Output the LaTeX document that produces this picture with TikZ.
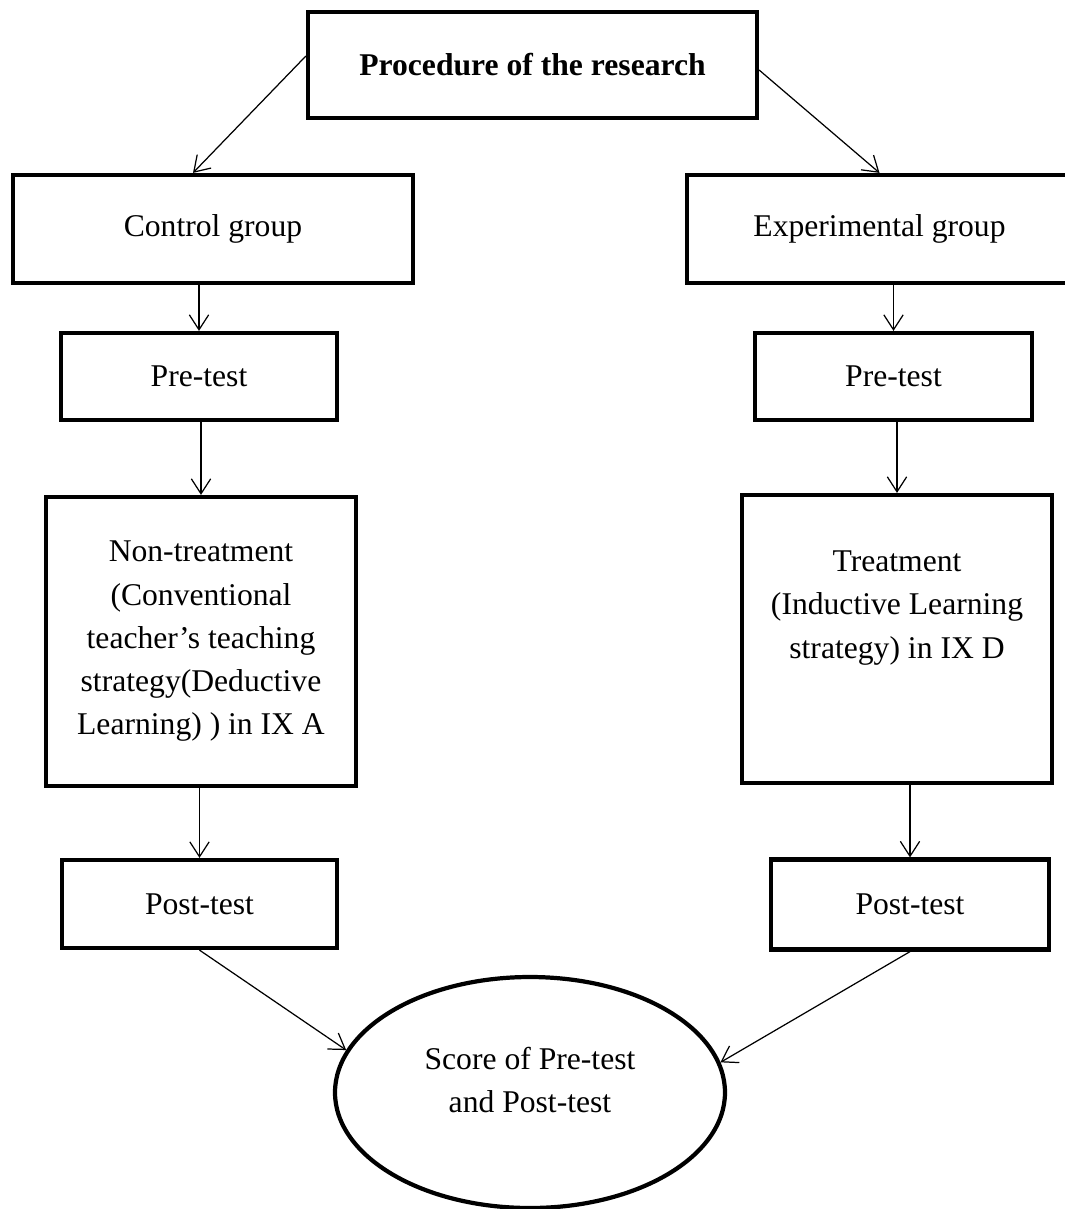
\documentclass[tikz,border=0pt]{standalone}
\usepackage{fontspec}
\setmainfont{Liberation Serif}
\usetikzlibrary{arrows.meta,shapes.geometric}
\tikzset{
    block/.style={rectangle,draw,line width=2.4pt,align=center,inner sep=0pt},
    oval/.style={ellipse,draw,line width=2.4pt,align=center,inner sep=0pt},
    plain/.style={draw=none,align=center,inner sep=0pt},
    directed/.style={arrows={-Straight Barb[length=8.5pt,width=11pt]},line width=0.7pt},
    }

\begin{document}
\begin{tikzpicture}[font=\fontsize{18}{24.6}\selectfont]
    \useasboundingbox (0,0) rectangle (21.3,-24.18);
		\node[block,minimum width=8.98cm,minimum height=2.12cm] (proc) at (10.65,-1.3) {\textbf{Procedure of the research}};
		\node[block,minimum width=8cm,minimum height=2.16cm] (ctrl) at (4.26,-4.58) {Control group};
		\node[block,minimum width=7.7cm,minimum height=2.16cm] (expt) at (17.59,-4.58) {Experimental group};
		\node[block,minimum width=5.52cm,minimum height=1.74cm] (pre1) at (3.98,-7.53) {Pre-test};
		\node[block,minimum width=5.54cm,minimum height=1.74cm] (pre2) at (17.87,-7.53) {Pre-test};
		\node[block,minimum width=6.2cm,minimum height=5.78cm] (nontr) at (4.02,-12.83) {Non-treatment\\(Conventional\\teacher’s teaching\\strategy(Deductive\\Learning) ) in IX A};
		\node[block,minimum width=6.2cm,minimum height=5.76cm] (treat) at (17.94,-12.78) {};
		\node[plain] (treattxt) at (17.94,-12.16) {Treatment\\(Inductive Learning\\strategy) in IX D};
		\node[block,minimum width=5.5cm,minimum height=1.76cm] (post1) at (3.99,-18.08) {Post-test};
		\node[block,minimum width=5.56cm,minimum height=1.8cm] (post2) at (18.2,-18.09) {Post-test};
		\node[oval,minimum width=7.8cm,minimum height=4.62cm] (score) at (10.6,-21.85) {};
		\node[plain] (scoretxt) at (10.6,-21.6) {Score of Pre-test\\and Post-test};

		\draw[directed] ([yshift=0.18cm]proc.west) -- ([xshift=-0.4cm]ctrl.north);
		\draw[directed] ([yshift=-0.1cm]proc.east) -- (expt.north);
		\draw[directed] (ctrl.south -| pre1) -- (pre1);
		\draw[directed] (expt.south -| pre2) -- (pre2);
		\draw[directed] (pre1.south -| nontr) -- (nontr);
		\draw[directed] (pre2.south -| treat) -- (treat);
		\draw[directed] (nontr.south -| post1) -- (post1);
		\draw[directed] (treat.south -| post2) -- (post2);
		\draw[directed] (post1.south) -- (score.167);
		\draw[directed] (post2.south) -- (score.9);
\end{tikzpicture}
\end{document}
